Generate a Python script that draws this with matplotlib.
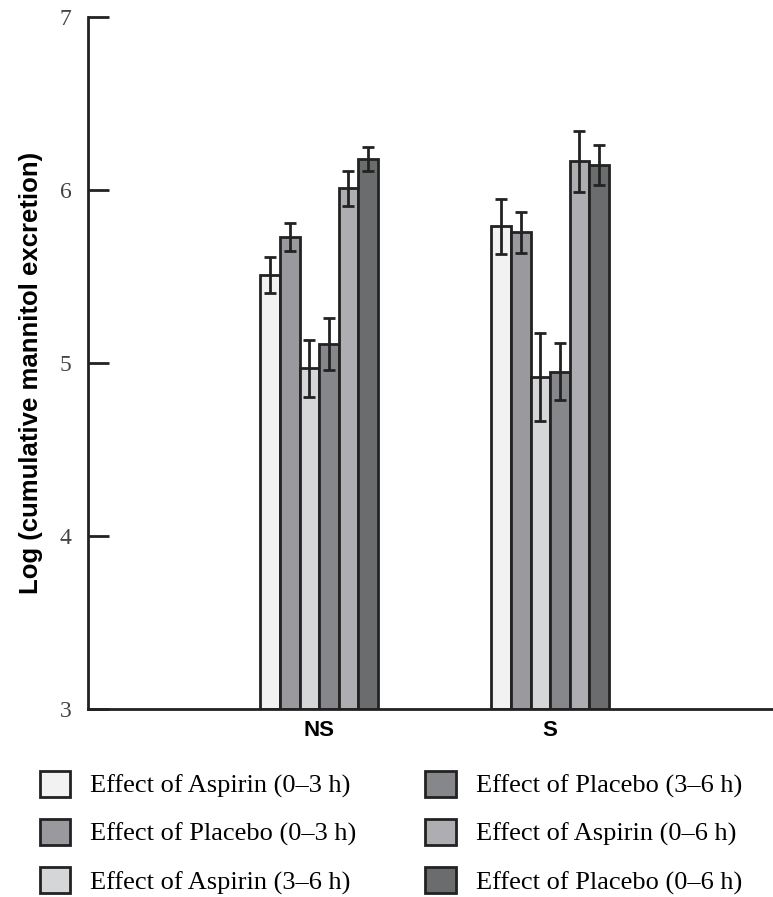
import numpy as np
import matplotlib
matplotlib.use("Agg")
import matplotlib.pyplot as plt

# data
groups = ["NS", "S"]
series = [
    "Effect of Aspirin (0–3 h)",
    "Effect of Placebo (0–3 h)",
    "Effect of Aspirin (3–6 h)",
    "Effect of Placebo (3–6 h)",
    "Effect of Aspirin (0–6 h)",
    "Effect of Placebo (0–6 h)",
]
ns_means = [5.51, 5.73, 4.97, 5.11, 6.01, 6.18]
ns_errs = [0.105, 0.08, 0.165, 0.15, 0.10, 0.07]
s_means = [5.79, 5.755, 4.92, 4.95, 6.165, 6.145]
s_errs = [0.16, 0.12, 0.255, 0.165, 0.175, 0.115]
colors = ["#f2f2f2", "#9a9a9e", "#d5d6d8", "#86878b", "#aeaeb2", "#6b6c6e"]

fig = plt.figure(figsize=(7.73, 8.97), dpi=100)
ax = fig.add_axes([88 / 773, 188 / 897, 685 / 773, 692 / 897])

x = np.arange(len(groups))
width = 0.0845
edge = "#222222"
for i, name in enumerate(series):
    pos = x + (i - 2.5) * width
    vals = [ns_means[i], s_means[i]]
    errs = [ns_errs[i], s_errs[i]]
    ax.bar(pos, np.array(vals) - 3, width, bottom=3, color=colors[i],
           edgecolor=edge, linewidth=2, label=name, zorder=2)
    ax.errorbar(pos, vals, yerr=errs, fmt="none", ecolor=edge,
                elinewidth=2, capsize=4, capthick=2, zorder=3)

ax.set_xlim(-1.0, 1.965)
ax.set_ylim(3, 7)
ax.set_yticks([3, 4, 5, 6, 7])
ax.set_xticks(x)
ax.set_xticklabels(groups, fontsize=16, fontweight="bold", family="Liberation Sans")
for lab in ax.get_yticklabels():
    lab.set_family("Liberation Serif")
    lab.set_fontsize(17)
    lab.set_color("#444444")
ax.tick_params(axis="y", direction="in", length=15, width=2, pad=12, color=edge)
ax.tick_params(axis="x", length=0, pad=8)
ax.spines["top"].set_visible(False)
ax.spines["right"].set_visible(False)
ax.spines["left"].set_linewidth(2)
ax.spines["bottom"].set_linewidth(2)
ax.spines["left"].set_color(edge)
ax.spines["bottom"].set_color(edge)
ax.set_ylabel("Log (cumulative mannitol excretion)", fontsize=18.5, fontweight="bold",
              family="Liberation Sans", labelpad=12)
ax.yaxis.label.set_y(0.485)

handles, labels = ax.get_legend_handles_labels()
fig.legend(handles, labels, ncol=2, loc="upper left", bbox_to_anchor=(40 / 773, 1 - 771 / 897),
           frameon=False, prop={"family": "Liberation Serif", "size": 19},
           handlelength=1.15, handleheight=1.15, columnspacing=2.6, labelspacing=0.78,
           handletextpad=0.76, borderpad=0, borderaxespad=0)

fig.savefig("out.png", dpi=100)
